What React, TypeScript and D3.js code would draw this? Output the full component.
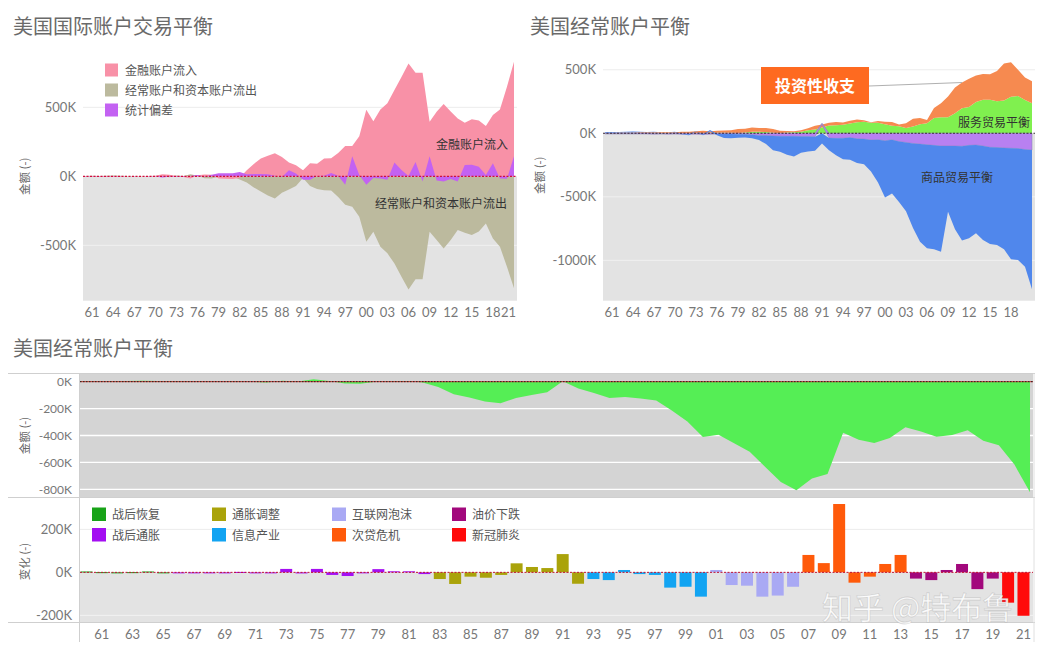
import React from "react";
import * as d3 from "d3";

// ---------- DATA (billions of USD, shown as "K" of millions) ----------
const years: number[] = d3.range(1960, 2022);

// Chart 1: 美国国际账户交易平衡
const finInflow = [
  -1, -2, -1, -2, -3, -2, 0, 1, 2, 3,
  5, 15, 12, 2, -5, -15, 8, 14, 12, -15,
  -18, -20, -10, 45, 90, 130, 150, 168, 140, 100,
  80, 45, 95, 92, 130, 132, 170, 220, 220, 290,
  482, 400, 485, 530, 625, 720, 818, 750, 750, 396,
  468, 524, 470, 420, 388, 413, 405, 365, 445, 485,
  650, 830,
];
const caKaOutflow = [
  3, 4, 3, 4, 7, 5, 3, 3, 1, 0,
  2, -1, -6, 7, 2, 15, 4, -14, -15, -2,
  -4, -2, -22, -45, -80, -110, -138, -160, -118, -95,
  -70, -12, -70, -92, -100, -102, -150, -205, -220, -292,
  -474, -402, -510, -558, -631, -727, -819, -746, -746, -402,
  -462, -522, -462, -389, -408, -425, -400, -341, -450, -510,
  -655, -811,
];
const statDiscrepancy = [
  -1, -1, -1, -1, -1, -1, 0, -1, 0, -1,
  -1, -8, -2, -2, -2, 3, 9, -2, 12, 22,
  22, 22, 32, 15, 17, 17, 15, 5, -5, 45,
  20, -25, -25, 2, 5, 25, 5, -60, 145, 10,
  -60, -12, -15, -25, 100, 46, 3, 104, -38, 145,
  -30, -38, -20, -38, 82, 84, 70, 10, 95, -15,
  -18, 145,
];

// Chart 2: 美国经常账户平衡 (components)
const services = [
  -1.4, -1.4, -1.1, -1.0, -0.8, -0.3, -0.3, -1.3, -0.9, -1.0,
  -0.3, 1.0, 1.1, 2.0, 1.9, 3.5, 4.0, 4.3, 3.7, 3.0,
  6.1, 11.9, 12.3, 9.3, 3.4, 0.3, 6.5, 7.9, 12.4, 24.6,
  30.2, 45.8, 60.4, 63.7, 67.3, 77.8, 86.9, 90.2, 82.1, 82.3,
  71.0, 58.6, 55.1, 41.5, 54.1, 71.9, 79.6, 121.0, 126.6, 127.1,
  157.4, 196.7, 206.2, 245.6, 263.1, 263.4, 253.2, 258.6, 288, 294,
  262, 236,
];
const primaryIncome = [
  4.6, 5.0, 5.6, 6.0, 6.6, 7.4, 7.3, 7.6, 8.4, 8.1,
  8.7, 10.6, 11.6, 14.7, 18.6, 12.8, 16.1, 18.1, 20.4, 30.9,
  30.1, 32.9, 29.8, 31.6, 30.0, 20.6, 11.5, 7.4, 11.6, 14.3,
  28.6, 24.1, 23.0, 25.3, 17.1, 20.9, 22.3, 12.6, 4.3, 13.9,
  19.2, 29.4, 15, 38, 61, 48, 25, 79, 109, 163,
  203, 203, 224, 209, 204, 202, 237, 291, 272, 206,
  178, 174,
];
const secondaryIncome = [
  -4.1, -4.3, -4.5, -4.7, -5.0, -5.3, -5.6, -5.9, -5.6, -5.7,
  -6.2, -7.4, -8.5, -6.9, -9.2, -7.1, -5.7, -5.2, -5.5, -6.6,
  -8.3, -11.7, -16.5, -17.7, -20.6, -22.7, -24.1, -23.3, -25.3, -26.2,
  -26.7, 9.9, -36.6, -39.8, -38.3, -34.1, -43.0, -45.1, -53.2, -50.4,
  -58.6, -51.3, -64.9, -71.8, -80, -85, -90, -95, -100, -100,
  -100, -102, -95, -92, -100, -110, -112, -115, -118, -120,
  -128, -132,
];
const goods = [
  4.9, 5.6, 4.5, 5.2, 6.8, 5.0, 3.8, 3.8, 0.6, 0.6,
  2.6, -2.3, -6.4, 0.9, -5.5, 8.9, -9.5, -31.1, -33.9, -27.6,
  -25.5, -28.0, -36.5, -67.1, -112.5, -122.2, -145.1, -159.6, -127.0, -117.7,
  -111.0, -80, -96.9, -132.5, -165.8, -174.2, -191.0, -198.4, -248.2, -336.3,
  -446.8, -422.4, -475.2, -541.6, -664.8, -768, -816, -818, -832, -517,
  -656, -743, -732, -695, -740, -761, -768, -798, -874, -877,
  -922, -1096,
];

// Chart 3: 美国经常账户平衡 (balance and yearly change)
const currentAccount = [
  2.8, 3.8, 3.4, 4.4, 6.8, 5.4, 3.0, 2.6, 0.6, 0.4,
  2.3, -1.4, -5.8, 7.1, 2.0, 18.1, 4.3, -14.3, -15.1, -0.3,
  2.3, 5.0, -5.5, -38.7, -94.3, -118.2, -147.2, -160.7, -121.2, -99.5,
  -79.0, 2.9, -51.6, -84.8, -121.6, -113.6, -124.8, -140.7, -215.1, -295.5,
  -410.8, -395.3, -458.1, -521.3, -633.8, -745.4, -806.7, -718.6, -686.6, -379.7,
  -432.0, -455.3, -418.2, -339.5, -370.1, -408.5, -396.2, -361.7, -438.2, -472.1,
  -616.1, -821.6,
];
const caChange = [
  4, 1, -1, 1, 4, -1, -2, -1, -2, -1,
  2, -3, -4, 16, -5, 16, -12, -17, -1, 15,
  5, 5, -8, -31, -54, -20, -25, -12, 42, 25,
  20, 85, -53, -31, -36, 11, -8, -12, -71, -67,
  -113, 11, -59, -62, -113, -108, -67, 81, 43, 318,
  -48, -20, 39, 81, -29, -36, 11, 39, -78, -29,
  -141, -202,
];

const periodNames = ["战后恢复", "战后通胀", "通胀调整", "信息产业", "互联网泡沫", "次贷危机", "油价下跌", "新冠肺炎"];
const periodStarts = [1960, 1966, 1983, 1993, 2001, 2007, 2014, 2020];

const leftLegend = ["金融账户流入", "经常账户和资本账户流出", "统计偏差"];
const leftYTicks = [500, 0, -500];
const rightYTicks = [500, 0, -500, -1000];
const bottomYTicks = [0, -200, -400, -600, -800];
const barYTicks = [200, 0, -200];
const topXTicks = d3.range(1961, 2022, 3);
const barXTicks = d3.range(1961, 2022, 2);

// ---------- STYLE ----------
const periodColors = ["#18a318", "#a40ef2", "#aaa30a", "#12a4f2", "#a9a9f4", "#ff5a0a", "#a2087c", "#ff0a0a"];
const leftColors = ["#f891a7", "#bcba9e", "#c362f2"];
const rightColors: Record<string, string> = {
  services: "#80f04f",
  primary: "#f68a50",
  secondary: "#b880f1",
  goods: "#5087ec",
};
const CJK = '"Noto Sans CJK SC", "Noto Sans", sans-serif';
const NUM = 'Lato, "Open Sans", sans-serif';
const TICK = "#777";
const GRAY = "#e3e3e3";
const TITLE = "#6a6a6a";

const fmtK = (v: number) => `${v}K`;
const twoDigit = (y: number) => String(y % 100).padStart(2, "0");
const periodOf = (yr: number) => {
  let idx = 0;
  periodStarts.forEach((s, i) => {
    if (yr >= s) idx = i;
  });
  return idx;
};

export default function App() {
  // ----- chart 1 -----
  const L = { left: 83, right: 517, top: 52, bottom: 300.7 };
  const xL = d3.scaleLinear().domain([1960, 2021]).range([85, 514]);
  const yL = d3.scaleLinear().domain([-901, 901]).range([L.bottom, L.top]);
  const areaL = (vals: number[]) =>
    d3
      .area<number>()
      .x((_, i) => xL(years[i]))
      .y0(yL(0))
      .y1((d) => yL(d))(vals) ?? "";

  // ----- chart 2 -----
  const R = { left: 603, right: 1035, top: 52, bottom: 300.7 };
  const xR = d3.scaleLinear().domain([1960, 2021]).range([605, 1032]);
  const yR = d3.scaleLinear().domain([-1318, 640]).range([R.bottom, R.top]);
  const rows = years.map((yr, i) => ({
    year: yr,
    services: services[i],
    primary: primaryIncome[i],
    secondary: secondaryIncome[i],
    goods: goods[i],
  }));
  const keys = ["services", "primary", "secondary", "goods"];
  const stacked = d3.stack<any>().keys(keys).offset(d3.stackOffsetDiverging)(rows);
  const areaR = d3
    .area<any>()
    .x((d: any) => xR(d.data.year))
    .y0((d: any) => yR(d[0]))
    .y1((d: any) => yR(d[1]));
  const iAnno = years.indexOf(2011);
  const annoX = xR(2011);
  const annoY = yR(stacked[1][iAnno][1]);

  // ----- chart 3 -----
  const B = { left: 80, right: 1033, top1: 374, bottom1: 497, top2: 498, bottom2: 622 };
  const xB = d3.scaleLinear().domain([1960, 2021]).range([80, 1030]);
  const yB1 = d3.scaleLinear().domain([-857, 57]).range([B.bottom1, B.top1]);
  const yB2 = d3.scaleLinear().domain([-231, 346]).range([B.bottom2, B.top2]);
  const xBand = d3.scaleBand<number>().domain(years).range([79, 1031]).paddingInner(0.22).paddingOuter(0.1);
  const areaB =
    d3
      .area<number>()
      .x((_, i) => xB(years[i]))
      .y0(yB1(0))
      .y1((d) => yB1(d))(currentAccount) ?? "";

  return (
    <svg
      width={1043}
      height={652}
      style={{ position: "absolute", left: 0, top: 0, background: "#fff" }}
    >
      <rect x={0} y={0} width={1043} height={652} fill="#fff" />

      {/* ================= CHART 1 ================= */}
      <text x={13} y={34} fontFamily={CJK} fontSize={20} fill={TITLE}>
        美国国际账户交易平衡
      </text>
      <rect x={L.left} y={yL(0)} width={L.right - L.left} height={L.bottom - yL(0)} fill={GRAY} />
      {leftYTicks
        .filter((t) => t !== 0)
        .map((t) => (
          <line key={t} x1={L.left} x2={L.right} y1={yL(t)} y2={yL(t)} stroke={t > 0 ? "#ececec" : "#f0f0f0"} strokeWidth={1} />
        ))}
      <path d={areaL(caKaOutflow)} fill={leftColors[1]} />
      <path d={areaL(finInflow)} fill={leftColors[0]} />
      <path d={areaL(statDiscrepancy)} fill={leftColors[2]} />
      <line x1={L.left} x2={L.right} y1={yL(0)} y2={yL(0)} stroke="#d0103a" strokeWidth={1.2} strokeDasharray="2 1.5" />
      {leftYTicks.map((t) => (
        <text key={t} x={76} y={yL(t)} dy="0.35em" textAnchor="end" fontFamily={NUM} fontSize={13} fill={TICK}>
          {fmtK(t)}
        </text>
      ))}
      <text transform={`translate(29,${yL(0)}) rotate(-90)`} textAnchor="middle" fontFamily={CJK} fontSize={11.5} fill="#666">
        金额 (-)
      </text>
      {topXTicks.map((t, i) => {
        const last = i === topXTicks.length - 1;
        return (
          <text
            key={t}
            x={last ? L.right - 1 : xL(t)}
            y={317}
            textAnchor={last ? "end" : "middle"}
            fontFamily={NUM}
            fontSize={13}
            fill={TICK}
          >
            {twoDigit(t)}
          </text>
        );
      })}
      {leftLegend.map((name, i) => (
        <g key={name} transform={`translate(105,${63.5 + i * 20})`}>
          <rect x={0} y={0} width={13} height={13} fill={leftColors[i]} />
          <text x={20} y={11} fontFamily={CJK} fontSize={12} fill="#555">
            {name}
          </text>
        </g>
      ))}
      <text x={508} y={149} textAnchor="end" fontFamily={CJK} fontSize={12} fill="#333">
        金融账户流入
      </text>
      <text x={507} y={208} textAnchor="end" fontFamily={CJK} fontSize={12} fill="#333">
        经常账户和资本账户流出
      </text>

      {/* ================= CHART 2 ================= */}
      <text x={530} y={34} fontFamily={CJK} fontSize={20} fill={TITLE}>
        美国经常账户平衡
      </text>
      <rect x={R.left} y={yR(0)} width={R.right - R.left} height={R.bottom - yR(0)} fill={GRAY} />
      {rightYTicks
        .filter((t) => t !== 0)
        .map((t) => (
          <line key={t} x1={R.left} x2={R.right} y1={yR(t)} y2={yR(t)} stroke={t > 0 ? "#ececec" : "#f0f0f0"} strokeWidth={1} />
        ))}
      {stacked.map((s: any) => (
        <path
          key={s.key}
          d={areaR(s) ?? ""}
          fill={rightColors[s.key]}
          stroke={s.key === "secondary" ? "#8a86b8" : "none"}
          strokeWidth={s.key === "secondary" ? 0.8 : 0}
          strokeOpacity={0.7}
        />
      ))}
      <line x1={R.left} x2={R.right} y1={yR(0)} y2={yR(0)} stroke="#3a2a3a" strokeWidth={1.1} strokeDasharray="2 1.5" />
      {rightYTicks.map((t) => (
        <text key={t} x={596} y={yR(t)} dy="0.35em" textAnchor="end" fontFamily={NUM} fontSize={13} fill={TICK}>
          {fmtK(t)}
        </text>
      ))}
      <text transform={`translate(544,${yR(-330)}) rotate(-90)`} textAnchor="middle" fontFamily={CJK} fontSize={11.5} fill="#666">
        金额 (-)
      </text>
      {topXTicks
        .filter((t) => t <= 2018)
        .map((t) => (
          <text key={t} x={xR(t)} y={317} textAnchor="middle" fontFamily={NUM} fontSize={13} fill={TICK}>
            {twoDigit(t)}
          </text>
        ))}
      <line x1={869} y1={86} x2={annoX} y2={annoY} stroke="#b0b0b0" strokeWidth={1} />
      <rect x={761} y={67} width={108} height={37} fill="#fe6a20" />
      <text x={815} y={91.5} textAnchor="middle" fontFamily={CJK} fontWeight={700} fontSize={16} fill="#fff">
        投资性收支
      </text>
      <text x={1030} y={127} textAnchor="end" fontFamily={CJK} fontSize={12} fill="#333">
        服务贸易平衡
      </text>
      <text x={957} y={182} textAnchor="middle" fontFamily={CJK} fontSize={12} fill="#333">
        商品贸易平衡
      </text>

      {/* ================= CHART 3 ================= */}
      <text x={13} y={356} fontFamily={CJK} fontSize={20} fill={TITLE}>
        美国经常账户平衡
      </text>
      {/* upper panel */}
      <rect x={B.left} y={B.top1} width={B.right - B.left} height={B.bottom1 - B.top1} fill="#d4d4d4" />
      {bottomYTicks
        .filter((t) => t !== 0)
        .map((t) => (
          <line key={t} x1={B.left} x2={B.right} y1={yB1(t)} y2={yB1(t)} stroke="#fff" strokeWidth={1.4} />
        ))}
      <path d={areaB} fill="#55ee55" />
      <line x1={B.left} x2={B.right} y1={yB1(0)} y2={yB1(0)} stroke="#d03030" strokeWidth={1} />
      <line x1={B.left} x2={B.right} y1={yB1(0)} y2={yB1(0)} stroke="#222" strokeWidth={1} strokeDasharray="1.5 1.5" />
      {bottomYTicks.map((t) => (
        <text key={t} x={72} y={yB1(t)} dy="0.35em" textAnchor="end" fontFamily={NUM} fontSize={12} fill={TICK}>
          {fmtK(t)}
        </text>
      ))}
      <text transform={`translate(29,${yB1(-400)}) rotate(-90)`} textAnchor="middle" fontFamily={CJK} fontSize={11.5} fill="#666">
        金额 (-)
      </text>

      {/* lower panel */}
      <rect x={B.left} y={yB2(0)} width={B.right - B.left} height={B.bottom2 - yB2(0)} fill={GRAY} />
      {barYTicks
        .filter((t) => t !== 0)
        .map((t) => (
          <line key={t} x1={B.left} x2={B.right} y1={yB2(t)} y2={yB2(t)} stroke={t > 0 ? "#ececec" : "#f2f2f2"} strokeWidth={1} />
        ))}
      {years.map((yr, i) => {
        const v = caChange[i];
        const y0 = yB2(0);
        const y1 = yB2(v);
        return (
          <rect
            key={yr}
            x={xBand(yr)}
            y={Math.min(y0, y1)}
            width={xBand.bandwidth()}
            height={Math.max(1, Math.abs(y1 - y0))}
            fill={periodColors[periodOf(yr)]}
          />
        );
      })}
      <line x1={B.left} x2={B.right} y1={yB2(0)} y2={yB2(0)} stroke="#c01030" strokeWidth={1} strokeDasharray="2 1.5" />
      {barYTicks.map((t) => (
        <text key={t} x={72} y={yB2(t)} dy="0.35em" textAnchor="end" fontFamily={NUM} fontSize={13} fill={TICK}>
          {fmtK(t)}
        </text>
      ))}
      <text transform={`translate(29,${yB2(50)}) rotate(-90)`} textAnchor="middle" fontFamily={CJK} fontSize={11.5} fill="#666">
        变化 (-)
      </text>
      {periodNames.map((name, i) => {
        const col = Math.floor(i / 2);
        const row = i % 2;
        return (
          <g key={name} transform={`translate(${92 + col * 120},${507.5 + row * 20.5})`}>
            <rect x={0} y={0} width={14} height={13.5} fill={periodColors[i]} />
            <text x={20} y={11.5} fontFamily={CJK} fontSize={12} fill="#555">
              {name}
            </text>
          </g>
        );
      })}
      {barXTicks.map((t) => (
        <text
          key={t}
          x={(xBand(t) ?? 0) + xBand.bandwidth() / 2}
          y={639}
          textAnchor="middle"
          fontFamily={NUM}
          fontSize={13}
          fill={TICK}
        >
          {twoDigit(t)}
        </text>
      ))}

      {/* frame lines */}
      <line x1={8} x2={1035} y1={373.5} y2={373.5} stroke="#cfcfcf" />
      <line x1={8} x2={1035} y1={497.5} y2={497.5} stroke="#cfcfcf" />
      <line x1={8} x2={1035} y1={622.5} y2={622.5} stroke="#cfcfcf" />
      <line x1={79.5} x2={79.5} y1={373.5} y2={642} stroke="#cfcfcf" />
      <line x1={1034} x2={1034} y1={373.5} y2={642} stroke="#e0e0e0" />

      {/* watermark */}
      <text
        x={822}
        y={619}
        fontFamily={CJK}
        fontSize={31}
        fill="#ffffff"
        fillOpacity={0.9}
        stroke="#9a9a9a"
        strokeOpacity={0.35}
        strokeWidth={0.8}
      >
        知乎 @特布鲁
      </text>
    </svg>
  );
}
